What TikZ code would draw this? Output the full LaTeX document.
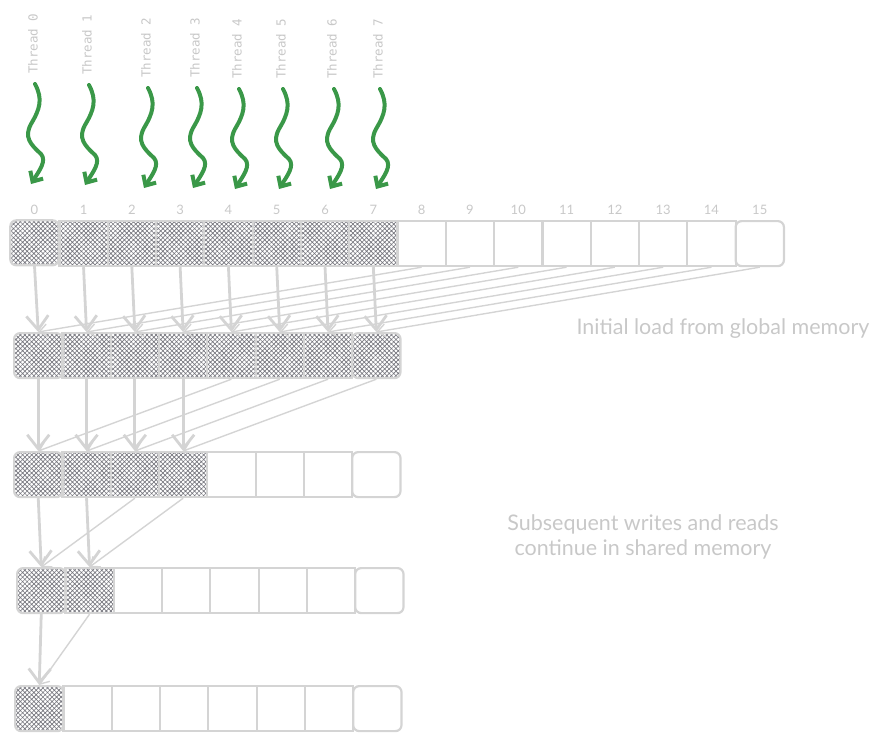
\documentclass[tikz,border=0pt]{standalone}
\usepackage{fontspec}
\setmainfont{Lato}
\newfontfamily\threadfont{DejaVu Sans Mono}
\usetikzlibrary{arrows.meta,patterns.meta,positioning}
\definecolor{linegray}{RGB}{212,212,212}
\definecolor{textgray}{RGB}{200,200,200}
\definecolor{threadgreen}{RGB}{58,152,72}
\definecolor{hatchgray}{RGB}{118,118,126}
\tikzset{
  cell/.style={draw=linegray, line width=2.2pt, minimum width=48.3pt, minimum height=45pt,
    inner sep=0pt, anchor=north west},
  used/.style={cell, pattern={Hatch[distance=3.2pt, angle=45, line width=0.65pt]}, pattern color=hatchgray},
  endcell/.style={rounded corners=6pt},
  midcell/.style={sharp corners},
  down/.style={draw=linegray, line width=2.8pt, -{Straight Barb[length=14pt,width=22pt]}},
  fold/.style={draw=linegray, line width=1.4pt, -{Straight Barb[length=8pt,width=13pt]}},
  wave/.style={draw=threadgreen, line width=4pt, line cap=round, -{Straight Barb[length=8pt,width=15pt]}},
  idx/.style={text=textgray, font=\fontsize{13}{15}\selectfont, inner sep=1pt},
  thread/.style={text=textgray, font=\threadfont\fontsize{12.5}{15}\selectfont, inner sep=1pt},
  caption/.style={text=textgray, font=\fontsize{21.5}{25}\selectfont, align=center},
}
\begin{document}
\begin{tikzpicture}[x=1pt, y=-1pt]
    \useasboundingbox (0,0) rectangle (883,740);
    % row / left x / top y / last cell / hatched cells
    \foreach \r/\x/\y/\m/\k in {0/10/220/15/8, 1/13/332/7/8, 2/13/451/7/4, 3/16/567/7/2, 4/14/685/7/1}{
        \foreach \c in {0,...,\m}{
            \ifnum\c<\k \def\sty{used}\else\def\sty{cell}\fi
            \ifnum\c=0 \def\rnd{endcell}\else
                \ifnum\c=\m \def\rnd{endcell}\else\def\rnd{midcell}\fi\fi
            \node[\sty, \rnd] (s\r-\c) at (\x+\c*48.3, \y) {};
        }
    }
    % element indices
    \foreach \c in {0,...,15}
        \node[idx, above=4pt of s0-\c] (n\c) {\c};
    % threads
    \foreach \i/\x/\y in {0/33/75, 1/87/76, 2/146/79, 3/195/79, 4/237/80, 5/281/80, 6/332/80, 7/378/80}{
        \node[thread, rotate=90, anchor=west] (t\i) at (\x,\y) {Thread \i};
        \draw[wave] ([shift={(2,9)}]t\i.west) .. controls +(8,15) and +(9,-15) .. ++(-4,40)
            .. controls +(-7,13) and +(-11,-10) .. ++(10,30)
            .. controls +(6,7) and +(8,-13) .. ++(-10,30);
    }
    % each step folds the upper half onto the lower half
    \foreach \r/\n in {0/8, 1/4, 2/2, 3/1}{
        \pgfmathtruncatemacro\s{\r+1}
        \foreach \i in {1,...,\n}{
            \pgfmathtruncatemacro\a{\i-1}
            \pgfmathtruncatemacro\b{\i-1+\n}
            \draw[down] (s\r-\a.south) -- (s\s-\a.north);
            \draw[fold] (s\r-\b.south) -- (s\s-\a.north);
        }
    }
    \node[caption] (load) at (723,329) {Initial load from global memory};
    \node[caption] (shared) at (643,537) {Subsequent writes and reads\\continue in shared memory};
\end{tikzpicture}
\end{document}
